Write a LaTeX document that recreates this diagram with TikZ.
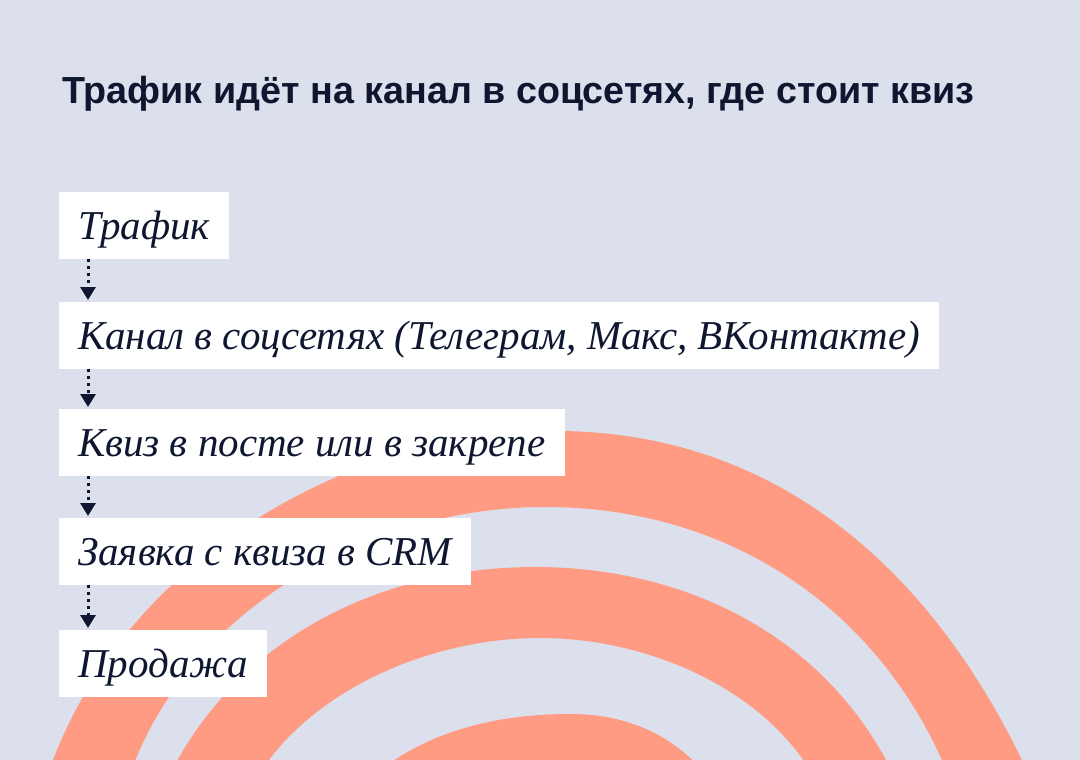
\documentclass[tikz,border=0pt]{standalone}
\usepackage{fontspec}
\setmainfont{Liberation Serif}
\newfontfamily\titlefont{Liberation Sans}
\usetikzlibrary{arrows.meta}
\definecolor{bg}{RGB}{219,224,236}
\definecolor{salmon}{RGB}{255,154,131}
\definecolor{ink}{RGB}{14,22,48}
\begin{document}
\begin{tikzpicture}[x=1pt,y=-1pt,
  stepbox/.style={fill=white, text=ink, font=\itshape\fontsize{41}{41}\selectfont,
    anchor=north west, inner xsep=19pt, inner ysep=20pt, text height=27pt, text depth=0pt},
  flow/.style={draw=ink, line width=3pt, dash pattern=on 3pt off 4pt,
    -{Triangle[width=15pt,length=13pt]}},
  titletext/.style={text=ink, font=\titlefont\bfseries\fontsize{37.7}{37.7}\selectfont,
    anchor=base west, inner sep=0pt},
  band/.style={fill=salmon}]
\fill[bg] (0,0) rectangle (1080,760);
\useasboundingbox (0,0) rectangle (1080,760);
\begin{scope}
\clip (0,0) rectangle (1080,760);
% outer band
\fill[band] (40,800) .. controls (100,580) and (330,431) .. (555,431)
  .. controls (800,431) and (955,600) .. (1040,800)
  -- (958,800) .. controls (895,620) and (740,507) .. (545,507)
  .. controls (360,507) and (170,620) .. (122,800) -- cycle;
% middle band
\fill[band] (158,800) .. controls (225,640) and (380,567) .. (535,567)
  .. controls (690,567) and (840,640) .. (905,800)
  -- (825,800) .. controls (785,700) and (660,638) .. (540,638)
  .. controls (420,638) and (290,700) .. (245,800) -- cycle;
% inner band
\fill[band] (350,800) .. controls (400,740) and (480,714) .. (570,714)
  .. controls (640,714) and (690,745) .. (725,800) -- cycle;
\end{scope}
\node[titletext] (title) at (62,103) {Трафик идёт на канал в соцсетях, где стоит квиз};
\node[stepbox] (b1) at (59,192) {Трафик};
\node[stepbox] (b2) at (59,302) {Канал в соцсетях (Телеграм, Макс, ВКонтакте)};
\node[stepbox] (b3) at (59,409) {Квиз в посте или в закрепе};
\node[stepbox] (b4) at (59,518) {Заявка с квиза в CRM};
\node[stepbox] (b5) at (59,630) {Продажа};
\draw[flow] ([xshift=29pt]b1.south west) -- ([xshift=29pt,yshift=2pt]b2.north west);
\draw[flow] ([xshift=29pt]b2.south west) -- ([xshift=29pt,yshift=2pt]b3.north west);
\draw[flow] ([xshift=29pt]b3.south west) -- ([xshift=29pt,yshift=2pt]b4.north west);
\draw[flow] ([xshift=29pt]b4.south west) -- ([xshift=29pt,yshift=2pt]b5.north west);
\end{tikzpicture}
\end{document}
